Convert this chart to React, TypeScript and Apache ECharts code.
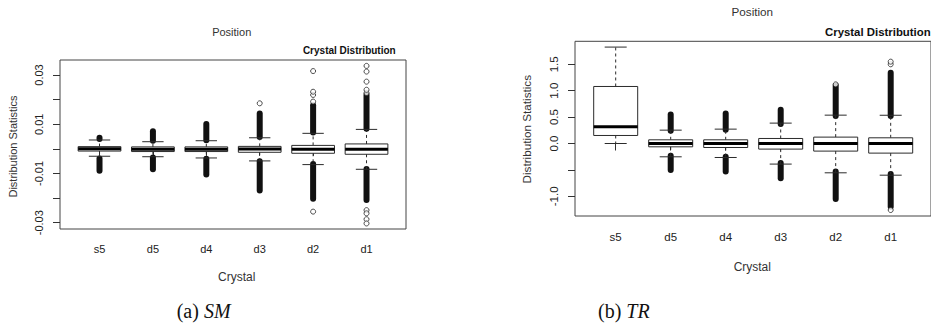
import React, { useEffect, useRef } from 'react';
import * as echarts from 'echarts';

const categories = ['s5', 'd5', 'd4', 'd3', 'd2', 'd1'];

// (a) SM — each row: [lower whisker, Q1, median, Q3, upper whisker]
const smBoxes = [
  [-0.0030, -0.0009, 0.0000, 0.0009, 0.0036],
  [-0.0032, -0.0011, -0.0002, 0.0008, 0.0029],
  [-0.0037, -0.0011, -0.0002, 0.0008, 0.0033],
  [-0.0049, -0.0014, -0.0001, 0.0010, 0.0045],
  [-0.0064, -0.0018, -0.0002, 0.0014, 0.0063],
  [-0.0083, -0.0022, -0.0002, 0.0020, 0.0079],
];
// dense runs of outliers [from, to]
const smUpperDense = [
  [0.0040, 0.0045],
  [0.0033, 0.0072],
  [0.0035, 0.0101],
  [0.0048, 0.0144],
  [0.0066, 0.0177],
  [0.0082, 0.0220],
];
const smLowerDense = [
  [-0.0089, -0.0039],
  [-0.0083, -0.0035],
  [-0.0104, -0.0040],
  [-0.0169, -0.0050],
  [-0.0203, -0.0062],
  [-0.0208, -0.0082],
];
// single outliers [category index, value]
const smOutliers = [
  [3, 0.0185],
  [4, 0.0192], [4, 0.0219], [4, 0.0232], [4, 0.0316], [4, -0.0255],
  [5, 0.0227], [5, 0.0240], [5, 0.0273], [5, 0.0314], [5, 0.0337],
  [5, -0.0249], [5, -0.0262], [5, -0.0286], [5, -0.0303],
];
const smTickLabels = ['-0.03', '-0.01', '0.01', '0.03'];

// (b) TR
const trBoxes = [
  [0.000, 0.152, 0.316, 1.080, 1.826],
  [-0.252, -0.063, 0.000, 0.070, 0.253],
  [-0.265, -0.076, 0.000, 0.070, 0.272],
  [-0.390, -0.106, 0.000, 0.095, 0.386],
  [-0.555, -0.144, 0.000, 0.121, 0.537],
  [-0.600, -0.182, 0.000, 0.108, 0.535],
];
const trUpperDense = [
  null,
  [0.24, 0.55],
  [0.26, 0.57],
  [0.37, 0.64],
  [0.52, 1.10],
  [0.52, 1.34],
];
const trLowerDense = [
  null,
  [-0.50, -0.23],
  [-0.53, -0.25],
  [-0.66, -0.37],
  [-1.05, -0.53],
  [-1.20, -0.58],
];
const trOutliers = [
  [4, 1.12], [5, 1.50], [5, 1.55], [5, -1.26],
];
const trTickLabels = ['-1.0', '0.0', '0.5', '1.0', '1.5'];

const SANS = '"Liberation Sans", Arial, sans-serif';
const SERIF = '"Liberation Serif", "Times New Roman", serif';
const INK = '#2b2b2b';

function boxRender(params: any, api: any) {
  const idx = api.value(0);
  const lo = api.value(1), q1 = api.value(2), med = api.value(3), q3 = api.value(4), hi = api.value(5);
  const band = api.size([1, 0])[0];
  const cx = api.coord([idx, med])[0];
  const y = (v: number) => api.coord([idx, v])[1];
  const hw = band * 0.4;
  const sw = band * 0.2;
  return {
    type: 'group',
    children: [
      { type: 'line', shape: { x1: cx, y1: y(q3), x2: cx, y2: y(hi) }, style: { stroke: INK, lineWidth: 1, lineDash: [3, 3] } },
      { type: 'line', shape: { x1: cx, y1: y(q1), x2: cx, y2: y(lo) }, style: { stroke: INK, lineWidth: 1, lineDash: [3, 3] } },
      { type: 'line', shape: { x1: cx - sw, y1: y(hi), x2: cx + sw, y2: y(hi) }, style: { stroke: INK, lineWidth: 1 } },
      { type: 'line', shape: { x1: cx - sw, y1: y(lo), x2: cx + sw, y2: y(lo) }, style: { stroke: INK, lineWidth: 1 } },
      { type: 'rect', shape: { x: cx - hw, y: y(q3), width: 2 * hw, height: y(q1) - y(q3) }, style: { fill: '#fff', stroke: INK, lineWidth: 1 } },
      { type: 'line', shape: { x1: cx - hw, y1: y(med), x2: cx + hw, y2: y(med) }, style: { stroke: '#000', lineWidth: 3 } },
    ],
  };
}

function denseRender(params: any, api: any) {
  const idx = api.value(0);
  const p1 = api.coord([idx, api.value(1)]);
  const p2 = api.coord([idx, api.value(2)]);
  return {
    type: 'line',
    shape: { x1: p1[0], y1: p1[1], x2: p2[0], y2: p2[1] },
    style: { stroke: '#111', lineWidth: 6, lineCap: 'round' },
  };
}

function denseData(list: any[]) {
  const out: number[][] = [];
  list.forEach((r, i) => { if (r) out.push([i, r[0], r[1]]); });
  return out;
}

function panel(grid: number, boxes: number[][], up: any[], low: any[], outl: number[][]) {
  return [
    {
      type: 'custom', xAxisIndex: grid, yAxisIndex: grid, renderItem: denseRender, clip: false,
      encode: { x: 0, y: [1, 2] }, data: denseData(up).concat(denseData(low)), z: 3,
    },
    {
      type: 'custom', xAxisIndex: grid, yAxisIndex: grid, renderItem: boxRender, clip: false,
      encode: { x: 0, y: [1, 2, 3, 4, 5] }, data: boxes.map((b, i) => [i].concat(b)), z: 4,
    },
    {
      type: 'scatter', xAxisIndex: grid, yAxisIndex: grid, symbol: 'circle', symbolSize: 5, clip: false,
      itemStyle: { color: '#fff', borderColor: '#222', borderWidth: 1 }, data: outl, z: 5,
    },
  ];
}

function catAxis(grid: number, offset: number, margin: number, size: number) {
  return {
    type: 'category', gridIndex: grid, data: categories, boundaryGap: true, offset,
    axisLine: { show: false },
    axisTick: { show: true, alignWithLabel: true, length: 7, lineStyle: { color: '#333' } },
    axisLabel: { margin, fontSize: size, color: '#222', fontFamily: SANS },
    splitLine: { show: false },
  };
}

function valAxis(grid: number, min: number, max: number, interval: number, digits: number, labels: string[], margin: number, size: number, offset: number) {
  return {
    type: 'value', gridIndex: grid, min, max, interval, offset,
    axisLine: { show: false },
    axisTick: { show: true, length: 7, lineStyle: { color: '#333' } },
    axisLabel: {
      rotate: 90, margin, fontSize: size, color: '#222', fontFamily: SANS,
      formatter: (v: number) => { const s = (Math.abs(v) < 1e-9 ? 0 : v).toFixed(digits); return labels.includes(s) ? s : ''; },
    },
    splitLine: { show: false },
  };
}

function txt(x: number, y: number, text: string, size: number, opts: any = {}) {
  return {
    type: 'text', x, y, rotation: opts.rotation || 0,
    style: {
      text, fontSize: size, fontFamily: SANS, fontWeight: opts.bold ? 'bold' : 'normal',
      fill: opts.color || '#333', textAlign: opts.align || 'center', textVerticalAlign: 'middle',
    },
  };
}

function caption(x: number, y: number, label: string, name: string) {
  return {
    type: 'text', x, y,
    style: {
      text: '{n|' + label + ' }{i|' + name + '}', textVerticalAlign: 'middle', textAlign: 'left',
      rich: {
        n: { fontFamily: SERIF, fontSize: 20, fill: '#111' },
        i: { fontFamily: SERIF, fontSize: 20, fontStyle: 'italic', fill: '#111' },
      },
    },
  };
}

export default function App() {
  const ref = useRef<HTMLDivElement>(null);
  useEffect(() => {
    if (!ref.current) return;
    const chart = echarts.init(ref.current, undefined, { renderer: 'svg' });
    const smAxisX = 60 + 0.24 * 53.4;
    const trAxisX = 575 + 0.24 * 55;
    chart.setOption({
      animation: false,
      backgroundColor: '#fff',
      grid: [
        { left: smAxisX, top: 75, width: 6 * 53.4, height: 147.7, show: false },
        { left: trAxisX, top: 64.3, width: 6 * 55, height: 132, show: false },
        { left: 60, top: 60, width: 346, height: 169, show: true, borderColor: '#444', borderWidth: 1, backgroundColor: 'transparent' },
        { left: 575, top: 41.3, width: 357, height: 174.7, show: true, borderColor: '#444', borderWidth: 1, backgroundColor: 'transparent' },
      ],
      xAxis: [
        catAxis(0, 229 - 222.7, 14, 11),
        catAxis(1, 216 - 196.3, 15, 11.5),
        { type: 'value', gridIndex: 2, show: false },
        { type: 'value', gridIndex: 3, show: false },
      ],
      yAxis: [
        valAxis(0, -0.03, 0.03, 0.01, 2, smTickLabels, 16, 11, smAxisX - 60),
        valAxis(1, -1.0, 1.5, 0.5, 1, trTickLabels, 15, 11.5, trAxisX - 575),
        { type: 'value', gridIndex: 2, show: false },
        { type: 'value', gridIndex: 3, show: false },
      ],
      series: [
        ...panel(0, smBoxes, smUpperDense, smLowerDense, smOutliers),
        ...panel(1, trBoxes, trUpperDense, trLowerDense, trOutliers),
      ],
      graphic: [
        txt(231.7, 31.7, 'Position', 11),
        txt(395.7, 50, 'Crystal Distribution', 10, { bold: true, align: 'right', color: '#111' }),
        txt(236.7, 276.7, 'Crystal', 12),
        txt(12.7, 146.5, 'Distribution Statistics', 11, { rotation: Math.PI / 2 }),
        txt(752.3, 11.7, 'Position', 11.7),
        txt(930.7, 31.7, 'Crystal Distribution', 11.4, { bold: true, align: 'right', color: '#111' }),
        txt(752.3, 266.7, 'Crystal', 12),
        txt(526.7, 129.2, 'Distribution Statistics', 11.7, { rotation: Math.PI / 2 }),
        caption(176.7, 310.7, '(a)', 'SM'),
        caption(598, 310.7, '(b)', 'TR'),
      ],
    });
    return () => chart.dispose();
  }, []);
  return <div ref={ref} style={{ position: 'fixed', left: 0, top: 0, width: 931, height: 328, background: '#fff' }} />;
}
